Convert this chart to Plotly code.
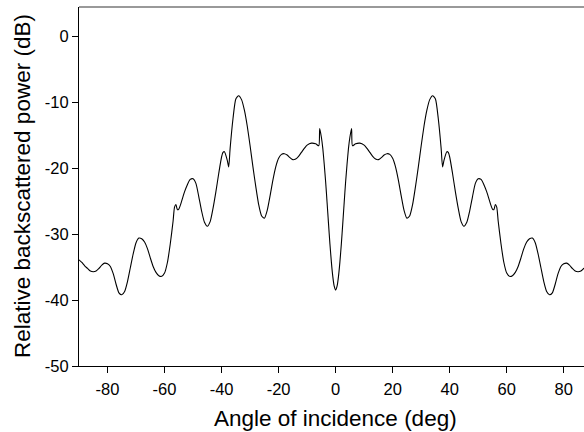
import plotly.graph_objects as go

# Angle of incidence (deg) and relative backscattered power (dB)
angle_deg = [
    -90, -89, -88, -87, -86, -85, -84, -83, -82, -81, -80, -79, -78, -77, -76, -75, -74, -73, -72, -71,
    -70, -69, -68, -67, -66, -65, -64, -63, -62, -61, -60, -59, -58, -57, -56.5, -56, -55.5, -55, -54, -53,
    -52, -51, -50, -49, -48, -47, -46, -45, -44, -43, -42, -41, -40, -39.5, -39, -38, -37.5, -37, -36, -35,
    -34, -33, -32, -31, -30, -29, -28, -27, -26, -25, -24, -23, -22, -21, -20, -19, -18, -17, -16, -15,
    -14, -13, -12, -11, -10, -8.5, -7, -5.9, -5.6, -5, -4.5, -4, -3.5, -3, -2.5, -2, -1.5, -1, -0.5,
    0,
    0.5, 1, 1.5, 2, 2.5, 3, 3.5, 4, 4.5, 5, 5.6, 5.9, 7, 8.5, 10, 11, 12, 13, 14,
    15, 16, 17, 18, 19, 20, 21, 22, 23, 24, 25, 26, 27, 28, 29, 30, 31, 32, 33, 34,
    35, 36, 37, 37.5, 38, 39, 39.5, 40, 41, 42, 43, 44, 45, 46, 47, 48, 49, 50, 51, 52,
    53, 54, 55, 55.5, 56, 56.5, 57, 58, 59, 60, 61, 62, 63, 64, 65, 66, 67, 68, 69, 70,
    71, 72, 73, 74, 75, 76, 77, 78, 79, 80, 81, 82, 83, 84, 85, 86, 87, 88, 89, 90,
]
power_db = [
    -33.9, -34.3, -34.8, -35.2, -35.6, -35.7, -35.6, -35.2, -34.7, -34.4, -34.5, -34.9, -36.0, -37.6, -38.9, -39.2, -38.7, -37.2, -35.1, -33.0,
    -31.3, -30.6, -30.7, -31.2, -32.2, -33.6, -34.9, -35.8, -36.3, -36.4, -35.9, -34.3, -31.5, -28.0, -25.9, -25.5, -26.3, -26.2, -25.0, -23.6,
    -22.5, -21.7, -21.6, -22.3, -24.3, -26.5, -28.2, -28.8, -28.1, -26.1, -23.6, -20.8, -18.3, -17.6, -17.5, -18.8, -19.8, -17.0, -12.5, -9.5,
    -9.0, -9.6, -11.2, -13.6, -16.6, -19.8, -22.8, -25.5, -27.2, -27.6, -26.4, -24.2, -21.8, -19.8, -18.5, -17.9, -17.8, -18.0, -18.4, -18.7,
    -18.6, -18.2, -17.6, -17.0, -16.5, -16.2, -16.3, -16.6, -14.0, -15.3, -17.0, -19.4, -22.1, -25.2, -28.4, -31.5, -34.2, -36.4, -37.9,
    -38.5,
    -37.9, -36.4, -34.2, -31.5, -28.4, -25.2, -22.1, -19.4, -17.0, -15.3, -14.0, -16.6, -16.3, -16.2, -16.5, -17.0, -17.6, -18.2, -18.6,
    -18.7, -18.4, -18.0, -17.8, -17.9, -18.5, -19.8, -21.8, -24.2, -26.4, -27.6, -27.2, -25.5, -22.8, -19.8, -16.6, -13.6, -11.2, -9.6, -9.0,
    -9.5, -12.5, -17.0, -19.8, -18.8, -17.5, -17.6, -18.3, -20.8, -23.6, -26.1, -28.1, -28.8, -28.2, -26.5, -24.3, -22.3, -21.6, -21.7, -22.5,
    -23.6, -25.0, -26.2, -26.3, -25.5, -25.9, -28.0, -31.5, -34.3, -35.9, -36.4, -36.3, -35.8, -34.9, -33.6, -32.2, -31.2, -30.7, -30.6, -31.3,
    -33.0, -35.1, -37.2, -38.7, -39.2, -38.9, -37.6, -36.0, -34.9, -34.5, -34.4, -34.7, -35.2, -35.6, -35.7, -35.6, -35.2, -34.8, -34.3, -33.9,
]

x_ticks = [-80, -60, -40, -20, 0, 20, 40, 60, 80]
x_tick_labels = ["-80", "-60", "-40", "-20", "0", "20", "40", "60", "80"]
y_ticks = [-50, -40, -30, -20, -10, 0]
y_tick_labels = ["-50", "-40", "-30", "-20", "-10", "0"]

x_title = "Angle of incidence (deg)"
y_title = "Relative backscattered power (dB)"

font_family = "Liberation Sans, Arial, Helvetica, sans-serif"

fig = go.Figure()
fig.add_trace(go.Scatter(
    x=angle_deg, y=power_db, mode="lines",
    line=dict(color="black", width=1.1, shape="spline", smoothing=0.6),
    showlegend=False, hoverinfo="skip",
))

fig.update_layout(
    width=584, height=432,
    margin=dict(l=79, r=0, t=7, b=66),
    paper_bgcolor="white", plot_bgcolor="white",
    font=dict(family=font_family, color="black", size=16.5),
    showlegend=False,
    xaxis=dict(
        range=[-90, 87.1], showgrid=False, zeroline=False,
        tickmode="array", tickvals=x_ticks, ticktext=x_tick_labels,
        ticks="outside", ticklen=6, tickwidth=1, tickcolor="black",
        showline=True, linecolor="black", linewidth=1,
        tickfont=dict(size=16.5), ticklabelstandoff=2,
    ),
    yaxis=dict(
        range=[-50, 4.45], showgrid=False, zeroline=False,
        tickmode="array", tickvals=y_ticks, ticktext=y_tick_labels,
        ticks="outside", ticklen=6, tickwidth=1, tickcolor="black",
        showline=True, linecolor="black", linewidth=1,
        tickfont=dict(size=16.5),
    ),
    shapes=[dict(type="line", xref="paper", yref="paper", x0=0, x1=1, y0=1, y1=1,
                 line=dict(color="#777777", width=1.5))],
    annotations=[
        dict(text=x_title, xref="x", x=0, yref="paper", y=0, yanchor="top", xanchor="center",
             yshift=-38, showarrow=False, font=dict(size=22.5)),
        dict(text=y_title, xref="paper", x=0, xanchor="right", xshift=-42,
             yref="paper", y=0.5, yanchor="middle", textangle=-90,
             showarrow=False, font=dict(size=22.5)),
    ],
)

fig.write_html(
    "out.html",
    config={"displayModeBar": False},
    post_script="document.body.style.margin='0';document.body.style.overflow='hidden';",
)
